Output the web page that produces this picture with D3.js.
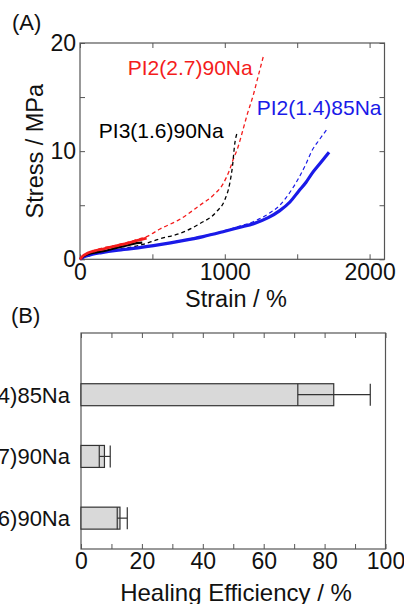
<!DOCTYPE html>
<html><head><meta charset="utf-8">
<script src="https://cdn.jsdelivr.net/npm/d3@7"></script>
<style>body{margin:0;background:#fff}svg{display:block}text{font-family:"Liberation Sans",Arial,sans-serif}</style>
</head><body>
<script>
// ---------- Panel A data (strain %, stress MPa) ----------
const redSolidStrain = [0, 20, 50, 100, 160, 250, 330, 390, 460];
const redSolidStress = [0, 0.3, 0.55, 0.78, 0.95, 1.25, 1.5, 1.72, 1.95];
const redDashStrain = [0, 100, 250, 414, 460, 552, 690, 828, 919, 989, 1034, 1057, 1092, 1126, 1155, 1195, 1230, 1269];
const redDashStress = [0, 0.8, 1.3, 1.9, 2.1, 2.8, 3.7, 5.0, 5.9, 7.0, 8.3, 9.2, 10.4, 12.0, 13.4, 15.1, 16.9, 18.9];
const blackSolidStrain = [0, 20, 50, 100, 160, 250, 330, 390, 430];
const blackSolidStress = [0, 0.25, 0.45, 0.62, 0.75, 1.05, 1.3, 1.5, 1.55];
const blackDashStrain = [0, 100, 250, 414, 552, 690, 828, 943, 1000, 1034, 1053, 1069, 1085];
const blackDashStress = [0, 0.5, 0.9, 1.3, 1.9, 2.4, 3.3, 4.4, 5.5, 7.0, 8.6, 10.7, 11.7];
const blueSolidStrain = [0, 30, 80, 150, 250, 400, 550, 700, 850, 1000, 1100, 1200, 1300, 1380, 1450, 1510, 1560, 1600, 1660, 1720];
const blueSolidStress = [0, 0.25, 0.45, 0.62, 0.82, 1.05, 1.35, 1.7, 2.1, 2.6, 2.95, 3.3, 3.85, 4.5, 5.3, 6.3, 7.1, 7.9, 8.9, 9.9];
const blueDashStrain = [0, 50, 150, 300, 500, 700, 900, 1000, 1100, 1200, 1300, 1380, 1450, 1510, 1560, 1600, 1650, 1710];
const blueDashStress = [0, 0.35, 0.65, 0.9, 1.25, 1.75, 2.3, 2.65, 3.05, 3.5, 4.2, 5.0, 6.2, 7.5, 8.8, 10.0, 11.0, 12.1];
const xTicksA = [0, 500, 1000, 1500, 2000];
const xTickLabelsA = [0, 1000, 2000];
const yTicksA = [0, 5, 10, 15, 20];
const yTickLabelsA = [0, 10, 20];
const seriesNames = ["PI2(2.7)90Na", "PI3(1.6)90Na", "PI2(1.4)85Na"];

// ---------- Panel B data ----------
const categories = ["PI2(1.4)85Na", "PI2(2.7)90Na", "PI3(1.6)90Na"];
const efficiency = [83, 7.7, 12.8];
const errLow = [71.2, 6.0, 11.9];
const errHigh = [95.0, 9.6, 15.2];
const xTicksB = [0, 10, 20, 30, 40, 50, 60, 70, 80, 90, 100];
const xTickLabelsB = [0, 20, 40, 60, 80, 100];

const W = 404, H = 604;
const svg = d3.select("body").append("svg").attr("width", W).attr("height", H);

const RED = "#f41c1c", BLUE = "#1a1ae8", BLACK = "#000", FRAME = "#555";

// ===== Panel A =====
const A = {l: 80, r: 384.5, t: 43, b: 259.3};
const xA = d3.scaleLinear().domain([0, 2103]).range([A.l, A.r]);
const yA = d3.scaleLinear().domain([0, 20]).range([A.b, A.t]);

const gA = svg.append("g");
function axisStyle(g) {
  g.select(".domain").remove();
  g.selectAll(".tick line").attr("stroke", FRAME).attr("stroke-width", 1);
  g.selectAll(".tick text").attr("font-size", 23).attr("fill", "#111").attr("font-family", '"Liberation Sans",Arial,sans-serif');
}
gA.append("g").attr("transform", `translate(0,${A.b})`)
  .call(d3.axisBottom(xA).tickValues(xTicksA).tickSizeInner(-5).tickSizeOuter(0).tickPadding(4)
    .tickFormat(d => xTickLabelsA.includes(d) ? d : "")).call(axisStyle);
gA.append("g").attr("transform", `translate(0,${A.t})`)
  .call(d3.axisTop(xA).tickValues(xTicksA).tickSizeInner(-5).tickSizeOuter(0).tickFormat("")).call(axisStyle);
gA.append("g").attr("transform", `translate(${A.l},0)`)
  .call(d3.axisLeft(yA).tickValues(yTicksA).tickSizeInner(-5).tickSizeOuter(0).tickPadding(4)
    .tickFormat(d => yTickLabelsA.includes(d) ? d : "")).call(axisStyle);
gA.append("g").attr("transform", `translate(${A.r},0)`)
  .call(d3.axisRight(yA).tickValues(yTicksA).tickSizeInner(-5).tickSizeOuter(0).tickFormat("")).call(axisStyle);
gA.append("rect").attr("x", A.l).attr("y", A.t).attr("width", A.r - A.l).attr("height", A.b - A.t)
  .attr("fill", "none").attr("stroke", FRAME).attr("stroke-width", 1.2);

const line = d3.line().x(d => xA(d[0])).y(d => yA(d[1])).curve(d3.curveMonotoneX);
const zip = (a, b) => a.map((v, i) => [v, b[i]]);
const curves = [
  {x: redDashStrain, y: redDashStress, c: RED, w: 1.3, dash: "4,3"},
  {x: blackDashStrain, y: blackDashStress, c: BLACK, w: 1.3, dash: "4,3"},
  {x: blueDashStrain, y: blueDashStress, c: BLUE, w: 1.2, dash: "4,3"},
  {x: blueSolidStrain, y: blueSolidStress, c: BLUE, w: 3.2, dash: null},
  {x: blackSolidStrain, y: blackSolidStress, c: BLACK, w: 2.2, dash: null},
  {x: redSolidStrain, y: redSolidStress, c: RED, w: 2.8, dash: null},
];
gA.selectAll("path.curve").data(curves).enter().append("path").attr("class", "curve")
  .attr("d", d => line(zip(d.x, d.y))).attr("fill", "none")
  .attr("stroke", d => d.c).attr("stroke-width", d => d.w)
  .attr("stroke-dasharray", d => d.dash);

// series annotations
const ann = [
  {t: seriesNames[0], x: 330, y: 17.0, c: RED},
  {t: seriesNames[1], x: 130, y: 11.2, c: BLACK},
  {t: seriesNames[2], x: 1220, y: 13.3, c: BLUE},
];
gA.selectAll("text.ann").data(ann).enter().append("text").attr("class", "ann")
  .attr("x", d => xA(d.x)).attr("y", d => yA(d.y)).attr("fill", d => d.c)
  .attr("font-size", 21).text(d => d.t);

gA.append("text").attr("x", 12).attr("y", 30).attr("font-size", 22).attr("fill", "#111").text("(A)");
gA.append("text").attr("transform", `translate(43,${(A.t + A.b) / 2}) rotate(-90)`)
  .attr("text-anchor", "middle").attr("font-size", 23.5).attr("fill", "#111").text("Stress / MPa");
gA.append("text").attr("x", 236).attr("y", 307).attr("text-anchor", "middle")
  .attr("font-size", 23.5).attr("fill", "#111").text("Strain / %");

// ===== Panel B =====
const B = {l: 81, r: 385.5, t: 333, b: 549};
const xB = d3.scaleLinear().domain([0, 100]).range([B.l, B.r]);
const yB = d3.scaleLinear().domain([0, 3.5]).range([B.t, B.b]);
const barHalf = 0.178;
const gB = svg.append("g");
gB.append("text").attr("x", 11).attr("y", 323).attr("font-size", 22).attr("fill", "#111").text("(B)");

gB.append("g").attr("transform", `translate(0,${B.b})`)
  .call(d3.axisBottom(xB).tickValues(xTicksB).tickSizeInner(-5).tickSizeOuter(0).tickPadding(4)
    .tickFormat(d => xTickLabelsB.includes(d) ? d : "")).call(axisStyle);
gB.append("g").attr("transform", `translate(0,${B.t})`)
  .call(d3.axisTop(xB).tickValues(xTicksB).tickSizeInner(-5).tickSizeOuter(0).tickFormat("")).call(axisStyle);
gB.append("rect").attr("x", B.l).attr("y", B.t).attr("width", B.r - B.l).attr("height", B.b - B.t)
  .attr("fill", "none").attr("stroke", FRAME).attr("stroke-width", 1.2);

const bars = categories.map((c, i) => ({c, v: efficiency[i], lo: errLow[i], hi: errHigh[i], pos: i + 1}));
gB.selectAll("rect.bar").data(bars).enter().append("rect").attr("class", "bar")
  .attr("x", xB(0)).attr("y", d => yB(d.pos - barHalf))
  .attr("width", d => xB(d.v) - xB(0)).attr("height", d => yB(d.pos + barHalf) - yB(d.pos - barHalf))
  .attr("fill", "#d9d9d9").attr("stroke", "#333").attr("stroke-width", 1.2);
const eg = gB.selectAll("g.err").data(bars).enter().append("g").attr("class", "err")
  .attr("stroke", "#333").attr("stroke-width", 1.2);
eg.append("line").attr("x1", d => xB(d.lo)).attr("x2", d => xB(d.hi)).attr("y1", d => yB(d.pos)).attr("y2", d => yB(d.pos));
eg.append("line").attr("x1", d => xB(d.lo)).attr("x2", d => xB(d.lo)).attr("y1", d => yB(d.pos - barHalf)).attr("y2", d => yB(d.pos + barHalf));
eg.append("line").attr("x1", d => xB(d.hi)).attr("x2", d => xB(d.hi)).attr("y1", d => yB(d.pos - barHalf)).attr("y2", d => yB(d.pos + barHalf));

// category labels are clipped at the left edge in the reference image
gB.selectAll("text.cat").data(bars).enter().append("text").attr("class", "cat")
  .attr("x", 70).attr("y", d => yB(d.pos)).attr("dy", "0.36em").attr("text-anchor", "end")
  .attr("font-size", 22).attr("fill", "#111").text(d => d.c);

gB.append("text").attr("x", 236).attr("y", 601).attr("text-anchor", "middle")
  .attr("font-size", 24).attr("fill", "#111").text("Healing Efficiency / %");
</script>
</body></html>
